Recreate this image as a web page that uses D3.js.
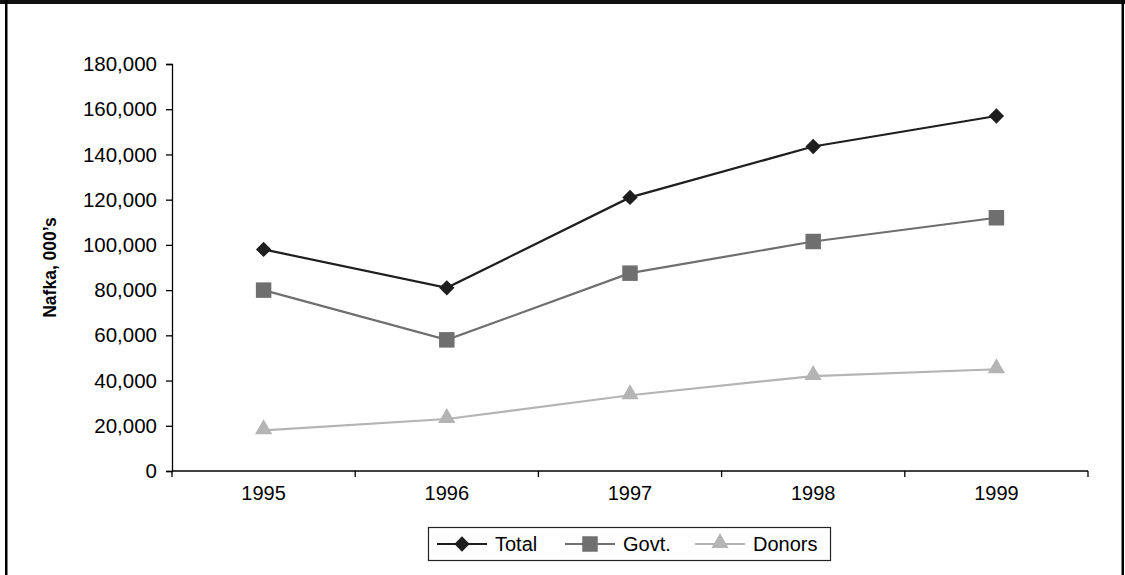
<!DOCTYPE html>
<html>
<head>
<meta charset="utf-8">
<script src="https://cdn.jsdelivr.net/npm/d3@7"></script>
<style>
  html, body { margin: 0; padding: 0; background: #fff; }
  svg { display: block; }
  text { font-family: "Liberation Sans", Arial, sans-serif; fill: #000; }
</style>
</head>
<body>
<svg id="chart" width="1125" height="575"></svg>
<script>
const years = ["1995", "1996", "1997", "1998", "1999"];
const totalValues = [98000, 81000, 121000, 143500, 157000];
const govtValues = [80000, 58000, 87500, 101500, 112000];
const donorValues = [18000, 23000, 33500, 42000, 45000];
const yTicks = [0, 20000, 40000, 60000, 80000, 100000, 120000, 140000, 160000, 180000];
const seriesNames = ["Total", "Govt.", "Donors"];
const seriesColors = ["#1e1e1e", "#6f6f6f", "#b4b4b4"];
const yTitle = "Nafka, 000\u2019s";

const series = [
  { name: seriesNames[0], values: totalValues, color: seriesColors[0], shape: "diamond" },
  { name: seriesNames[1], values: govtValues, color: seriesColors[1], shape: "square" },
  { name: seriesNames[2], values: donorValues, color: seriesColors[2], shape: "triangle" }
];

const svg = d3.select("#chart");

// frame
svg.append("rect").attr("x", 0).attr("y", 0).attr("width", 1125).attr("height", 4).attr("fill", "#111");
svg.append("rect").attr("x", 5).attr("y", 0).attr("width", 2.5).attr("height", 575).attr("fill", "#000");
svg.append("rect").attr("x", 1121.5).attr("y", 0).attr("width", 2.5).attr("height", 575).attr("fill", "#000");

const x = d3.scaleBand().domain(years).range([172, 1088]).padding(0);
const y = d3.scaleLinear().domain([0, 180000]).range([471, 64]);

// y axis
const yAxis = svg.append("g").attr("transform", "translate(172,0)")
  .call(d3.axisLeft(y).tickValues(yTicks).tickSize(6).tickPadding(9).tickFormat(d3.format(",")));
yAxis.selectAll("text").style("font-size", "20.5px").style("font-family", "'Liberation Sans', Arial, sans-serif");
yAxis.selectAll("line, path").attr("stroke", "#000").attr("stroke-width", 1.3);

// x axis
const xAxis = svg.append("g").attr("transform", "translate(0,471)")
  .call(d3.axisBottom(x).tickSize(0).tickPadding(15));
xAxis.select("path").remove();
xAxis.selectAll("text").style("font-size", "20px").style("font-family", "'Liberation Sans', Arial, sans-serif");
svg.append("line").attr("x1", x.range()[0]).attr("x2", x.range()[1]).attr("y1", 471).attr("y2", 471)
  .attr("stroke", "#000").attr("stroke-width", 1.3);
const boundaries = years.map(d => x(d)).concat([x.range()[1]]);
svg.append("g").selectAll("line").data(boundaries).join("line")
  .attr("x1", d => d).attr("x2", d => d).attr("y1", 471).attr("y2", 477)
  .attr("stroke", "#000").attr("stroke-width", 1.3);

// y title
svg.append("text")
  .attr("transform", `translate(56,${(y(0) + y(180000)) / 2}) rotate(-90)`)
  .attr("text-anchor", "middle")
  .style("font-size", "17.5px").style("font-weight", "bold")
  .text(yTitle);

const cx = d => x(d) + x.bandwidth() / 2;
const line = d3.line().x((v, i) => cx(years[i])).y(v => y(v));

const symbolFor = shape => {
  if (shape === "diamond") return d3.symbol().type(d3.symbolDiamond2).size(150)();
  if (shape === "square") return d3.symbol().type(d3.symbolSquare).size(240)();
  return d3.symbol().type(d3.symbolTriangle).size(130)();
};
const symTransform = shape => shape === "triangle" ? " translate(0,-1)" : "";

series.forEach(s => {
  svg.append("path").datum(s.values).attr("d", line)
    .attr("fill", "none").attr("stroke", s.color).attr("stroke-width", 2.2);
  svg.append("g").selectAll("path").data(s.values).join("path")
    .attr("d", symbolFor(s.shape))
    .attr("transform", (v, i) => `translate(${cx(years[i])},${y(v)})` + symTransform(s.shape))
    .attr("fill", s.color);
});

// legend
const legend = svg.append("g");
legend.append("rect").attr("x", 428.5).attr("y", 527.5).attr("width", 402).attr("height", 33)
  .attr("fill", "#fff").attr("stroke", "#222").attr("stroke-width", 1.2);
const legendX = [437, 565, 695];
series.forEach((s, i) => {
  const lx = legendX[i];
  const ly = 544;
  legend.append("line").attr("x1", lx).attr("x2", lx + 50).attr("y1", ly).attr("y2", ly)
    .attr("stroke", s.color).attr("stroke-width", 2.2);
  legend.append("path").attr("d", symbolFor(s.shape))
    .attr("transform", `translate(${lx + 25},${ly})` + symTransform(s.shape)).attr("fill", s.color);
  legend.append("text").attr("x", lx + 58).attr("y", ly + 7).style("font-size", "20px").text(s.name);
});
</script>
</body>
</html>
